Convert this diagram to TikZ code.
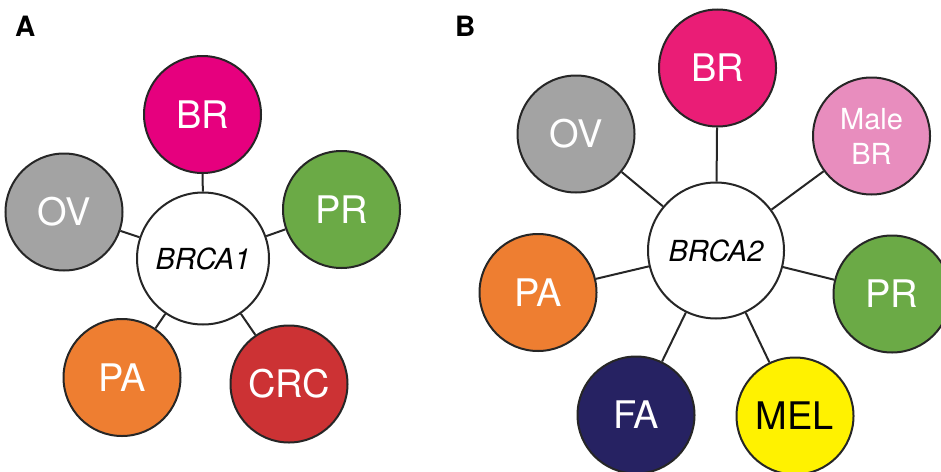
\documentclass[tikz,border=0pt]{standalone}
\usepackage{fontspec}
\setmainfont{TeX Gyre Heros}
\definecolor{brA}{HTML}{E6007E}
\definecolor{brB}{HTML}{EA1D76}
\definecolor{malebr}{HTML}{E88DBE}
\definecolor{ovc}{HTML}{A3A3A3}
\definecolor{prc}{HTML}{6BAA46}
\definecolor{pac}{HTML}{EE7E31}
\definecolor{crcc}{HTML}{CC3234}
\definecolor{fac}{HTML}{262262}
\definecolor{melc}{HTML}{FFF200}
\tikzset{
  disease/.style={circle, draw=black!85, line width=2pt, minimum size=117pt, inner sep=0pt, text=white, font=\fontsize{38}{38}\selectfont},
  gene/.style={circle, draw=black!85, line width=2pt, fill=white, inner sep=0pt, font=\fontsize{29}{29}\selectfont\itshape},
  link/.style={draw=black!85, line width=2pt},
  panel/.style={font=\fontsize{28}{28}\selectfont\bfseries, anchor=north west, inner sep=0pt}
}
\begin{document}
\begin{tikzpicture}[x=1pt,y=-1pt]
\useasboundingbox (0,0) rectangle (941,471);
% Panel A
\node[panel] (labA) at (15,16) {A};
\node[gene, minimum size=132pt] (g1) at (203,258.5) {BRCA1};
\node[disease, fill=brA] (a1) at (202.5,114.5) {BR};
\node[disease, fill=ovc] (a2) at (64,212) {OV};
\node[disease, fill=prc] (a3) at (341.5,209.5) {PR};
\node[disease, fill=pac] (a4) at (122,377.5) {PA};
\node[disease, fill=crcc] (a5) at (289,384) {CRC};
\foreach \n in {a1,a2,a3,a4,a5} \draw[link] (g1) -- (\n);
% Panel B
\node[panel] (labB) at (455,16) {B};
\node[gene, minimum size=136pt] (g2) at (716,250.5) {BRCA2};
\node[disease, fill=brB] (b1) at (717.5,68) {BR};
\node[disease, fill=ovc] (b2) at (576,134) {OV};
\node[disease, fill=malebr, align=center, font=\fontsize{29}{35}\selectfont] (b3) at (871.5,136) {Male\\BR};
\node[disease, fill=pac] (b4) at (538,292.5) {PA};
\node[disease, fill=prc] (b5) at (892,294) {PR};
\node[disease, fill=fac] (b6) at (636,415) {FA};
\node[disease, fill=melc, text=black] (b7) at (795,416) {MEL};
\foreach \n in {b1,b2,b3,b4,b5,b6,b7} \draw[link] (g2) -- (\n);
\end{tikzpicture}
\end{document}
